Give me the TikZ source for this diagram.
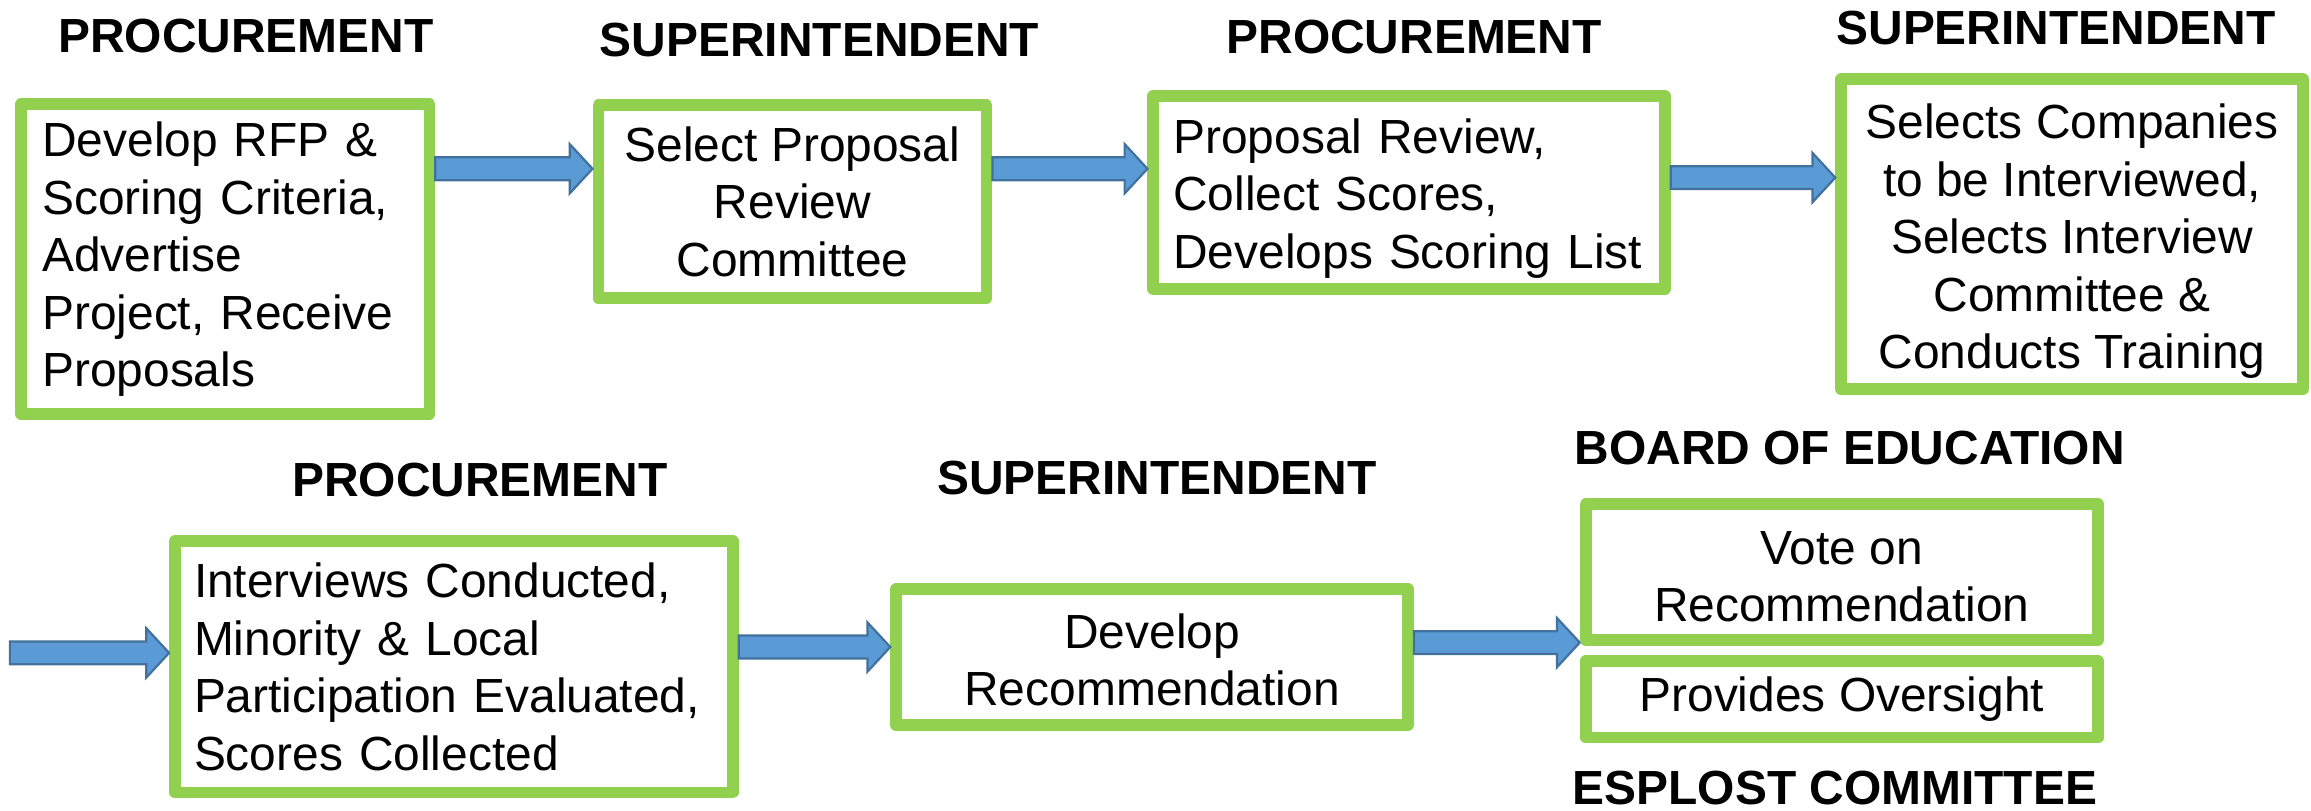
\documentclass[tikz,border=0pt]{standalone}
\usepackage{fontspec}
\setmainfont{Liberation Sans}
\usetikzlibrary{calc}
\definecolor{boxgreen}{HTML}{92D050}
\definecolor{arrowfill}{HTML}{5B9BD5}
\definecolor{arrowline}{HTML}{41719C}

\begin{document}
\begin{tikzpicture}[x=0.02cm, y=-0.02cm,
    box/.style={draw=boxgreen, line width=0.16cm, line join=round, fill=white,
        inner ysep=0pt, font=\fontsize{18.5}{22.2}\selectfont},
    leftbox/.style={box, align=left},
    midbox/.style={box, align=center},
    title/.style={anchor=base, font=\fontsize{18.5}{22.2}\selectfont\bfseries},
    fatarrow/.style={draw=arrowline, fill=arrowfill, line width=0.03cm,
        to path={let \p1=(\tikztostart), \p2=(\tikztotarget) in
            (\x1,\y1+0.155cm) -- (\x2-0.31cm,\y1+0.155cm) -- (\x2-0.31cm,\y1+0.335cm)
            -- (\x2,\y1) -- (\x2-0.31cm,\y1-0.335cm) -- (\x2-0.31cm,\y1-0.155cm)
            -- (\x1,\y1-0.155cm) -- cycle}}]
    \useasboundingbox (0,0) rectangle (1568,550);
    % 第一行: 标题
    \node[title] (t1) at (166.8,35.7) {PROCUREMENT};
    \node[title] (t2) at (556,38.5) {SUPERINTENDENT};
    \node[title] (t3) at (959.5,36.2) {PROCUREMENT};
    \node[title] (t4) at (1395,30.5) {SUPERINTENDENT};
    % 第一行: 方框
    \node[leftbox, text width=4.972cm, inner xsep=0.284cm, minimum height=4.206cm]
        (b1) at (152.9,175.85) {Develop RFP \&\\Scoring Criteria,\\Advertise\\Project, Receive\\Proposals};
    \node[midbox, minimum width=5.268cm, minimum height=2.618cm]
        (b2) at (537.7,136.85) {Select Proposal\\Review\\Committee};
    \node[leftbox, text width=6.398cm, inner xsep=0.272cm, minimum height=2.622cm]
        (b3) at (956.05,130.65) {\rule{0pt}{0.63cm}Proposal Review,\\Collect Scores,\\Develops Scoring List};
    \node[midbox, minimum width=6.268cm, minimum height=4.204cm]
        (b4) at (1405.9,158.9) {\rule{0pt}{0.67cm}Selects Companies\\to be Interviewed,\\Selects Interview\\Committee \&\\Conducts Training};
    % 第一行: 箭头
    \draw[fatarrow] (b1.east |- 0,114.5) to (b2.west |- 0,114.5);
    \draw[fatarrow] (b2.east |- 0,114.5) to (b3.west |- 0,114.5);
    \draw[fatarrow] (b3.east |- 0,120.5) to (b4.west |- 0,120.5);
    % 第二行: 标题
    \node[title] (t5) at (325.7,337) {PROCUREMENT};
    \node[title] (t6) at (784.9,335.8) {SUPERINTENDENT};
    \node[title] (t7) at (1255,315.5) {BOARD OF EDUCATION};
    \node[title] (t8) at (1245,546) {ESPLOST COMMITTEE};
    % 第二行: 方框
    \node[leftbox, text width=7.054cm, inner xsep=0.258cm, minimum height=3.414cm]
        (b5) at (307.95,452.35) {Interviews Conducted,\\Minority \& Local\\Participation Evaluated,\\Scores Collected};
    \node[midbox, minimum width=6.948cm, minimum height=1.84cm]
        (b6) at (781.7,445.8) {\rule{0pt}{0.55cm}Develop\\Recommendation};
    \node[midbox, minimum width=6.954cm, minimum height=1.84cm]
        (b7) at (1249.65,388.1) {\rule{0pt}{0.58cm}Vote on\\Recommendation};
    \node[midbox, minimum width=6.954cm, minimum height=1.038cm]
        (b8) at (1249.65,474.45) {Provides Oversight};
    % 第二行: 箭头
    \coordinate (a0) at (6.7,443);
    \draw[fatarrow] (a0) to (b5.west |- a0);
    \draw[fatarrow] (b5.east |- 0,439) to (b6.west |- 0,439);
    \draw[fatarrow] (b6.east |- 0,436) to (b7.west |- 0,436);
\end{tikzpicture}
\end{document}
